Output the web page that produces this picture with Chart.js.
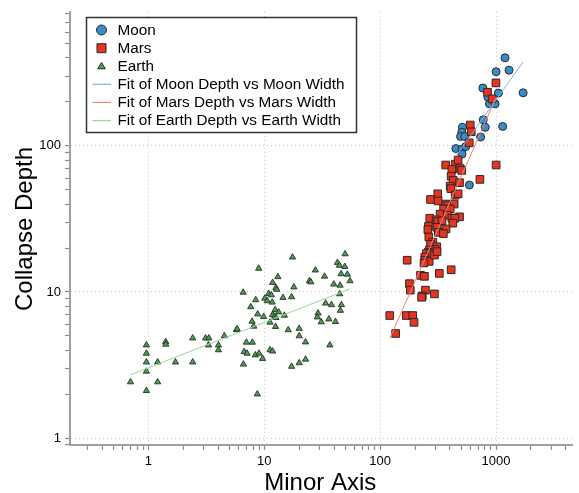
<!DOCTYPE html>
<html><head><meta charset="utf-8">
<script src="https://cdn.jsdelivr.net/npm/chart.js@4.4.1/dist/chart.umd.min.js"></script>
<style>html,body{margin:0;padding:0;background:#fff;overflow:hidden}</style>
</head><body>
<canvas id="c" width="579" height="493"></canvas>
<script>
// ---- data ----
const moonWidth = [1196,1002,1294,1714,770,1048,850,878,982,776,807,1141,513,506,494,537,736,450,509,548,509,589];
const moonDepth = [401,322,330,231,249,230,216,194,194,151,134,136,134,124,116,116,115,96,95,99,88,54];

const marsWidth = [998,845,926,599,611,587,368,444,471,416,490,506,1002,410,427,484,402,408,726,444,471,314,272,316,370,385,435,353,402,329,379,416,484,441,424,268,304,314,342,261,258,310,370,318,351,263,285,272,308,296,266,260,251,272,243,243,265,239,171,223,241,324,410,179,182,246,231,228,294,121,168,191,196,136,294,310];
const marsDepth = [270,233,210,139,125,105,74,75,80,69,70,68,74,62,58,56,53,51,59,46,47,47,43,42,40,39,40,37,37,34.1,33.5,32,32.7,32,29.6,32,31.2,30.3,30.7,28.1,26.7,27.7,27,25.6,25.1,23.8,21.9,21.2,20.4,19.6,19.4,18.7,18.3,18.3,17.3,16.5,16.2,15.8,16.5,13,12.8,13.4,14.2,11.4,10.3,10.3,9.4,9.2,9.7,6.9,6.9,6.9,6.2,5.2,17.9,18.9];

const earthWidth = [0.96,0.96,0.96,0.96,1.41,1.41,1.20,1.71,2.41,2.41,3.11,3.32,3.30,4.02,4.02,4.52,0.70,1.20,0.96,5.75,5.83,17.5,49.8,8.94,42.8,44.5,49.5,27.6,33.1,46.0,52.1,13.1,11.8,12.6,12.8,18.0,24.5,25.2,39.8,45.1,54.9,6.57,10.9,11.5,10.1,10.6,11.7,14.5,17.2,44.8,8.43,33.8,38.0,46.3,45.4,7.64,12.4,13.3,11.8,12.3,12.6,14.9,8.77,9.86,29.1,28.7,36.1,41.1,31.0,7.84,11.2,8.10,12.5,16.1,20.0,20.0,22.7,36.8,7.00,7.88,6.70,7.10,8.36,8.99,9.67,11.2,11.8,6.60,17.2,20.0,22.7,8.70];
const earthDepth = [4.33,3.80,3.31,2.86,4.56,4.38,3.31,3.31,3.31,4.83,4.83,4.83,4.33,4.33,4.01,5.00,2.42,2.42,2.11,5.50,5.58,17.3,18.2,14.5,15.9,15.2,14.9,14.1,12.8,13.3,13.2,12.7,11.6,10.7,10.4,10.8,11.9,11.7,11.3,11.1,11.9,9.94,9.74,9.54,9.05,8.69,8.50,9.15,9.25,9.69,8.83,8.37,8.17,8.17,7.47,7.91,7.55,7.28,6.99,6.80,6.67,6.91,7.05,6.77,7.16,6.73,6.52,6.26,6.23,6.29,6.20,5.82,5.79,5.50,5.62,5.00,4.54,4.33,4.52,4.52,3.90,3.80,3.70,3.80,3.50,4.01,3.93,3.20,3.09,3.27,3.46,2.00];

// fitted lines (end points)
const moonFitX = [450, 1714];  const moonFitY = [85, 376];
const marsFitX = [121.2, 1002]; const marsFitY = [4.81, 215];
const earthFitX = [0.70, 54.9]; const earthFitY = [2.71, 10.5];

// axis ticks
const xTickValues = [1, 10, 100, 1000];
const xTickLabels = ['1', '10', '100', '1000'];
const yTickValues = [1, 10, 100];
const yTickLabels = ['1', '10', '100'];
const minorMultipliers = [1,2,3,4,5,6,7,8,9];

const seriesNames = ['Moon', 'Mars', 'Earth'];
const fitNames = ['Fit of Moon Depth vs Moon Width', 'Fit of Mars Depth vs Mars Width', 'Fit of Earth Depth vs Earth Width'];
const xTitle = 'Minor Axis';
const yTitle = 'Collapse Depth';

// ---- styles ----
const FONT = '"Liberation Sans", Arial, Helvetica, sans-serif';
const moonFill = '#3a8cc6', marsFill = '#e8331f', earthFill = '#46a34c';
const moonLine = '#7db4de', marsLine = '#f2847a', earthLine = '#94d994';
const markerEdge = '#2a2a2a';

const pts = (xs, ys) => xs.map((x, i) => ({x: x, y: ys[i]}));
const isMajor = (v, list) => list.some(t => Math.abs(t - v) / t < 1e-6);

function logTicks(min, max) {
  const out = [];
  for (let e = Math.floor(Math.log10(min)); e <= Math.ceil(Math.log10(max)); e++) {
    minorMultipliers.forEach(m => {
      const v = m * Math.pow(10, e);
      if (v >= min && v <= max) out.push({value: v});
    });
  }
  return out;
}

const XMIN = 0.2103, XMAX = 4581, YMIN = 0.8967, YMAX = 828;

const overlay = {
  id: 'overlay',
  afterDraw(chart) {
    const ctx = chart.ctx;
    const area = chart.chartArea;
    ctx.save();
    // axis titles
    ctx.fillStyle = '#000';
    ctx.font = '24px ' + FONT;
    ctx.textAlign = 'center';
    ctx.textBaseline = 'alphabetic';
    ctx.fillText(xTitle, (area.left + area.right) / 2 - 1, 490);
    ctx.save();
    ctx.translate(32, 229);
    ctx.rotate(-Math.PI / 2);
    ctx.fillText(yTitle, 0, 0);
    ctx.restore();

    // legend box
    ctx.fillStyle = '#fff';
    ctx.fillRect(86, 17, 271, 116);
    ctx.strokeStyle = '#333';
    ctx.lineWidth = 1.5;
    ctx.strokeRect(86.5, 17.5, 270, 115);

    const rowY = [30, 48.2, 66.2, 84.3, 102.4, 120.6];
    const sx = 101.5, tx = 117.5;
    ctx.lineWidth = 1;
    // Moon circle
    ctx.beginPath(); ctx.arc(sx, rowY[0], 5, 0, Math.PI * 2);
    ctx.fillStyle = moonFill; ctx.fill(); ctx.strokeStyle = markerEdge; ctx.stroke();
    // Mars square
    ctx.beginPath(); ctx.rect(sx - 4.5, rowY[1] - 4.5, 9, 9);
    ctx.fillStyle = marsFill; ctx.fill(); ctx.stroke();
    // Earth triangle
    ctx.beginPath(); ctx.moveTo(sx, rowY[2] - 3.8); ctx.lineTo(sx + 3.8, rowY[2] + 2.6); ctx.lineTo(sx - 3.8, rowY[2] + 2.6); ctx.closePath();
    ctx.fillStyle = earthFill; ctx.fill(); ctx.stroke();
    // fit lines
    [moonLine, marsLine, earthLine].forEach((c, i) => {
      ctx.beginPath(); ctx.moveTo(92.5, rowY[3 + i]); ctx.lineTo(111, rowY[3 + i]);
      ctx.strokeStyle = c; ctx.lineWidth = 1.2; ctx.stroke();
    });
    ctx.fillStyle = '#000';
    ctx.font = '15.3px ' + FONT;
    ctx.textAlign = 'left';
    ctx.textBaseline = 'middle';
    seriesNames.concat(fitNames).forEach((t, i) => ctx.fillText(t, tx, rowY[i] + 0.5));
    ctx.restore();
  }
};

new Chart(document.getElementById('c'), {
  type: 'scatter',
  data: {
    datasets: [
      {label: fitNames[0], type: 'line', data: pts(moonFitX, moonFitY), borderColor: moonLine, borderWidth: 1, pointRadius: 0, fill: false, order: 0},
      {label: fitNames[1], type: 'line', data: pts(marsFitX, marsFitY), borderColor: marsLine, borderWidth: 1, pointRadius: 0, fill: false, order: 0},
      {label: fitNames[2], type: 'line', data: pts(earthFitX, earthFitY), borderColor: earthLine, borderWidth: 1, pointRadius: 0, fill: false, order: 0},
      {label: seriesNames[1], data: pts(marsWidth, marsDepth), pointStyle: 'rect', pointRadius: 5.4, backgroundColor: marsFill, borderColor: markerEdge, borderWidth: 1, order: 2},
      {label: seriesNames[0], data: pts(moonWidth, moonDepth), pointStyle: 'circle', pointRadius: 4, backgroundColor: moonFill, borderColor: markerEdge, borderWidth: 1, order: 3},
      {label: seriesNames[2], data: pts(earthWidth, earthDepth), pointStyle: 'triangle', pointRadius: 3.6, backgroundColor: earthFill, borderColor: markerEdge, borderWidth: 0.9, order: 2}
    ]
  },
  options: {
    responsive: false,
    animation: false,
    devicePixelRatio: 1,
    layout: {padding: {top: 7, right: 1, left: 0, bottom: 0}},
    plugins: {legend: {display: false}, tooltip: {enabled: false}},
    scales: {
      x: {
        type: 'logarithmic', min: XMIN, max: XMAX,
        afterBuildTicks: s => { s.ticks = logTicks(XMIN, XMAX); },
        afterFit: s => { s.height = 48; },
        grid: {
          color: c => (c.tick && isMajor(c.tick.value, xTickValues)) ? '#c4c4c4' : 'rgba(0,0,0,0)',
          lineWidth: 1, tickColor: '#8a8a8a', tickWidth: 1.2, tickLength: 5, drawTicks: true
        },
        border: {display: true, color: '#a0a0a0', width: 2, dash: [1, 3]},
        ticks: {
          autoSkip: false, maxRotation: 0, padding: 4, color: '#000',
          font: {family: FONT, size: 13},
          callback: v => { const i = xTickValues.findIndex(t => Math.abs(t - v) / t < 1e-6); return i >= 0 ? xTickLabels[i] : ''; }
        },
        title: {display: false}
      },
      y: {
        type: 'logarithmic', min: YMIN, max: YMAX,
        afterBuildTicks: s => { s.ticks = logTicks(YMIN, YMAX); },
        afterFit: s => { s.width = 70; },
        grid: {
          color: c => (c.tick && isMajor(c.tick.value, yTickValues)) ? '#c4c4c4' : 'rgba(0,0,0,0)',
          lineWidth: 1, tickColor: '#8a8a8a', tickWidth: 1.2, tickLength: 5, drawTicks: true
        },
        border: {display: true, color: '#a0a0a0', width: 2, dash: [1, 3]},
        ticks: {
          autoSkip: false, padding: 4, color: '#000',
          font: {family: FONT, size: 13},
          callback: v => { const i = yTickValues.findIndex(t => Math.abs(t - v) / t < 1e-6); return i >= 0 ? yTickLabels[i] : ''; }
        },
        title: {display: false}
      }
    }
  },
  plugins: [overlay]
});
</script>
</body></html>
